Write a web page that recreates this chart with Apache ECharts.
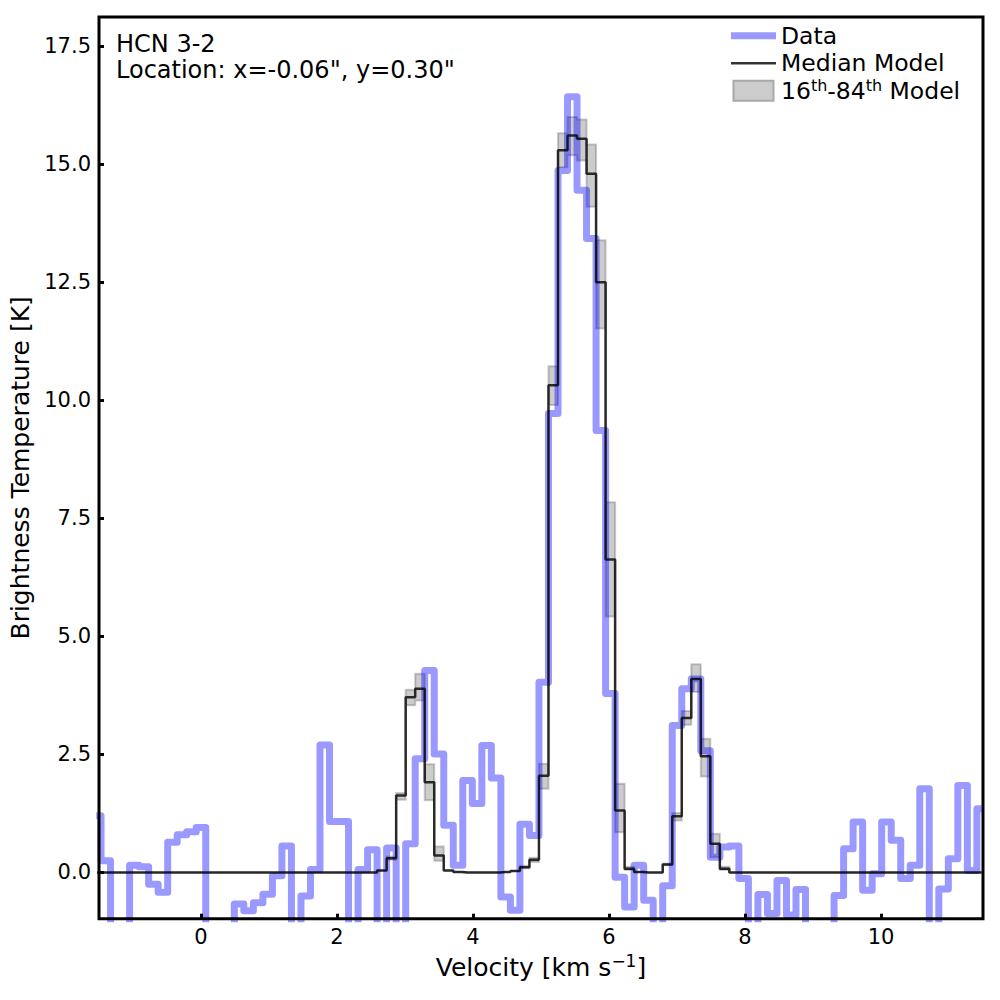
<!DOCTYPE html>
<html>
<head>
<meta charset="utf-8">
<title>HCN 3-2 spectrum</title>
<script src="https://cdn.jsdelivr.net/npm/echarts@6.0.0/dist/echarts.min.js"></script>
<style>
  html, body { margin: 0; padding: 0; background: #fff; }
  #chart { width: 1000px; height: 1000px; }
</style>
</head>
<body>
<div id="chart"></div>
<script>
// Channel centres [km/s] (0.14 km/s channels)
const velocity = [
  -1.54, -1.40, -1.26, -1.12, -0.98, -0.84, -0.70, -0.56, -0.42, -0.28,
  -0.14, 0.00, 0.14, 0.28, 0.42, 0.56, 0.70, 0.84, 0.98, 1.12,
  1.26, 1.40, 1.54, 1.68, 1.82, 1.96, 2.10, 2.24, 2.38, 2.52,
  2.66, 2.80, 2.94, 3.08, 3.22, 3.36, 3.50, 3.64, 3.78, 3.92,
  4.06, 4.20, 4.34, 4.48, 4.62, 4.76, 4.90, 5.04, 5.18, 5.32,
  5.46, 5.60, 5.74, 5.88, 6.02, 6.16, 6.30, 6.44, 6.58, 6.72,
  6.86, 7.00, 7.14, 7.28, 7.42, 7.56, 7.70, 7.84, 7.98, 8.12,
  8.26, 8.40, 8.54, 8.68, 8.82, 8.96, 9.10, 9.24, 9.38, 9.52,
  9.66, 9.80, 9.94, 10.08, 10.22, 10.36, 10.50, 10.64, 10.78, 10.92,
  11.06, 11.20, 11.34, 11.48
];

// Observed brightness temperature [K]
const dataTb = [
  1.20, 0.25, -1.60, -1.30, 0.15, 0.12, -0.25, -0.42, 0.64, 0.80,
  0.86, 0.95, -1.50, -1.80, -1.30, -0.67, -0.81, -0.64, -0.46, -0.07,
  0.56, -1.40, -0.50, 0.06, 2.70, 1.08, 1.08, -1.50, 0.06, 0.48,
  -1.20, 0.52, -1.30, 0.61, 2.41, 4.28, 2.51, 1.00, 0.15, 1.95,
  1.46, 2.69, 2.00, -0.52, -0.80, 1.02, 0.78, 4.03, 9.72, 14.87,
  16.43, 14.45, 13.43, 9.36, 3.79, -0.10, -0.73, 0.15, -0.59, -1.40,
  -0.28, 3.11, 3.89, 4.10, 2.58, 0.32, 0.54, 0.56, -0.13, -1.30,
  -0.47, -0.87, -0.17, -0.90, -0.36, -1.50, -1.70, -1.40, -0.49, 0.50,
  1.07, -0.38, -0.03, 1.07, 0.68, -0.13, 0.15, 1.77, -1.40, -0.35,
  0.29, 1.84, 0.04, 1.35
];

// Median model
const modelTb = [
  0, 0, 0, 0, 0, 0, 0, 0, 0, 0,
  0, 0, 0, 0, 0, 0, 0, 0, 0, 0,
  0, 0, 0, 0, 0, 0, 0, 0, 0, 0,
  0.04, 0.30, 1.63, 3.71, 3.89, 1.91, 0.36, 0.04, 0.01, 0,
  0, 0, 0, 0.01, 0.03, 0.11, 0.27, 2.05, 10.32, 15.30,
  15.61, 15.54, 14.80, 12.50, 6.63, 1.31, 0.08, 0.01, 0, 0,
  0.17, 1.19, 3.27, 4.10, 2.46, 0.61, 0.08, 0, 0, 0,
  0, 0, 0, 0, 0, 0, 0, 0, 0, 0,
  0, 0, 0, 0, 0, 0, 0, 0, 0, 0,
  0, 0, 0, 0
];

// 16th percentile model
const modelLo = [
  0, 0, 0, 0, 0, 0, 0, 0, 0, 0,
  0, 0, 0, 0, 0, 0, 0, 0, 0, 0,
  0, 0, 0, 0, 0, 0, 0, 0, 0, 0,
  0.04, 0.27, 1.54, 3.54, 3.64, 1.53, 0.25, 0.04, 0.01, 0,
  0, 0, 0, 0.01, 0.03, 0.09, 0.22, 1.77, 9.90, 14.94,
  15.19, 15.08, 14.10, 11.52, 5.42, 0.85, 0.05, 0.01, 0, 0,
  0.15, 1.10, 3.13, 3.82, 2.03, 0.32, 0.05, 0, 0, 0,
  0, 0, 0, 0, 0, 0, 0, 0, 0, 0,
  0, 0, 0, 0, 0, 0, 0, 0, 0, 0,
  0, 0, 0, 0
];

// 84th percentile model
const modelHi = [
  0, 0, 0, 0, 0, 0, 0, 0, 0, 0,
  0, 0, 0, 0, 0, 0, 0, 0, 0, 0,
  0, 0, 0, 0, 0, 0, 0, 0, 0, 0,
  0.04, 0.34, 1.68, 3.87, 4.21, 2.29, 0.55, 0.04, 0.01, 0,
  0, 0, 0, 0.01, 0.03, 0.14, 0.31, 2.30, 10.72, 15.66,
  16.00, 15.95, 15.42, 13.39, 7.84, 1.88, 0.12, 0.01, 0, 0,
  0.19, 1.26, 3.42, 4.41, 2.83, 0.82, 0.12, 0, 0, 0,
  0, 0, 0, 0, 0, 0, 0, 0, 0, 0,
  0, 0, 0, 0, 0, 0, 0, 0, 0, 0,
  0, 0, 0, 0
];

const xTicks = [0, 2, 4, 6, 8, 10];
const yTicks = [0, 2.5, 5, 7.5, 10, 12.5, 15, 17.5];

(function () {
  const FONT = 'DejaVu Sans';
  const SUP = { fontFamily: FONT, fontSize: 16, lineHeight: 16, verticalAlign: 'top', color: '#000' };

  function pairs(xs, ys) {
    return xs.map((x, i) => [x, ys[i]]);
  }

  // one step-shaped polygon for the whole 16-84 band (built on the first item only)
  function renderBand(params, api) {
    if (params.dataIndex !== 0) return null;
    const n = velocity.length;
    const xs = [], lo = [], hi = [];
    for (let j = 0; j < n; j++) {
      xs.push(api.value(0, j));
      lo.push(api.value(1, j));
      hi.push(api.value(2, j));
    }
    const edge = (j) => {
      if (j === 0) return xs[0] - (xs[1] - xs[0]) / 2;
      if (j === n) return xs[n - 1] + (xs[n - 1] - xs[n - 2]) / 2;
      return (xs[j - 1] + xs[j]) / 2;
    };
    const pts = [];
    for (let j = 0; j < n; j++) {
      pts.push(api.coord([edge(j), hi[j]]));
      pts.push(api.coord([edge(j + 1), hi[j]]));
    }
    for (let j = n - 1; j >= 0; j--) {
      pts.push(api.coord([edge(j + 1), lo[j]]));
      pts.push(api.coord([edge(j), lo[j]]));
    }
    return {
      type: 'polygon',
      shape: { points: pts },
      style: { fill: 'rgba(0,0,0,0.2)', stroke: 'rgba(0,0,0,0.2)', lineWidth: 2 }
    };
  }

  function initChart() {
    const el = document.getElementById('chart');
    const chart = echarts.init(el, null, { renderer: 'svg' });

    const opt = {
      animation: false,
      backgroundColor: '#fff',
      textStyle: { fontFamily: FONT },
      title: {
        text: 'HCN 3-2\nLocation: x=-0.06", y=0.30"',
        left: 116,
        top: 31,
        padding: 0,
        textStyle: { fontFamily: FONT, fontSize: 24, fontWeight: 'normal', color: '#000', lineHeight: 26 }
      },
      legend: {
        orient: 'vertical',
        left: 731,
        top: 22,
        padding: 0,
        itemGap: 0,
        itemWidth: 45,
        itemHeight: 20,
        selectedMode: false,
        textStyle: {
          fontFamily: FONT, fontSize: 23.5, color: '#000', lineHeight: 27.5,
          rich: { sup: SUP }
        },
        formatter: (name) => name === '16th-84th Model' ? '16{sup|th}-84{sup|th} Model' : name,
        data: [
          { name: 'Data', icon: 'path://M0,0H45V7H0Z', itemStyle: { color: 'rgba(0,0,255,0.4)', borderWidth: 0 } },
          { name: 'Median Model', icon: 'path://M0,0H44V2.5H0Z', itemStyle: { color: 'rgba(0,0,0,0.8)', borderWidth: 0 } },
          { name: '16th-84th Model', icon: 'path://M0,0H38V19H0Z', itemStyle: { color: '#cccccc', borderColor: '#a8a8a8', borderWidth: 2 } }
        ]
      },
      grid: {
        left: 99, right: 17, top: 17, bottom: 81.3,
        show: true, z: 10,
        borderColor: '#000', borderWidth: 3,
        backgroundColor: 'transparent'
      },
      xAxis: {
        type: 'value', min: -1.5, max: 11.5, z: 10,
        name: 'Velocity [km s{sup|−1}]',
        nameLocation: 'middle', nameGap: 34,
        nameTextStyle: {
          fontFamily: FONT, fontSize: 25, color: '#000', lineHeight: 30,
          rich: { sup: { fontFamily: FONT, fontSize: 17, lineHeight: 16, verticalAlign: 'top', color: '#000' } }
        },
        axisLine: { show: false, onZero: false },
        splitLine: { show: false },
        axisTick: { inside: true, length: 5, customValues: xTicks, lineStyle: { color: '#000', width: 3 } },
        axisLabel: { customValues: xTicks, margin: 8, fontFamily: FONT, fontSize: 21, color: '#000' }
      },
      yAxis: {
        type: 'value', min: -0.98, max: 18.12, z: 10,
        name: 'Brightness Temperature [K]',
        nameLocation: 'middle', nameGap: 54,
        nameTextStyle: { fontFamily: FONT, fontSize: 25, color: '#000' },
        axisLine: { show: false, onZero: false },
        splitLine: { show: false },
        axisTick: { inside: true, length: 5, customValues: yTicks, lineStyle: { color: '#000', width: 3 } },
        axisLabel: {
          customValues: yTicks, margin: 8, fontFamily: FONT, fontSize: 21, color: '#000',
          formatter: (v) => v.toFixed(1)
        }
      },
      series: [
        {
          name: '16th-84th Model', type: 'custom', coordinateSystem: 'cartesian2d', clip: true, z: 1,
          data: velocity.map((v, i) => [v, modelLo[i], modelHi[i]]),
          encode: { x: 0, y: [1, 2] },
          renderItem: renderBand,
          silent: true
        },
        {
          name: 'Data', type: 'line', step: 'middle',
          data: pairs(velocity, dataTb), symbol: 'none', z: 2,
          lineStyle: { color: 'rgba(0,0,255,0.4)', width: 7, join: 'round' },
          emphasis: { disabled: true }, silent: true
        },
        {
          name: 'Median Model', type: 'line', step: 'middle',
          data: pairs(velocity, modelTb), symbol: 'none', z: 3,
          lineStyle: { color: 'rgba(0,0,0,0.8)', width: 2.5 },
          emphasis: { disabled: true }, silent: true
        }
      ]
    };

    chart.setOption(opt);
    window.addEventListener('resize', () => chart.resize());
  }

  initChart();
})();
</script>
</body>
</html>
